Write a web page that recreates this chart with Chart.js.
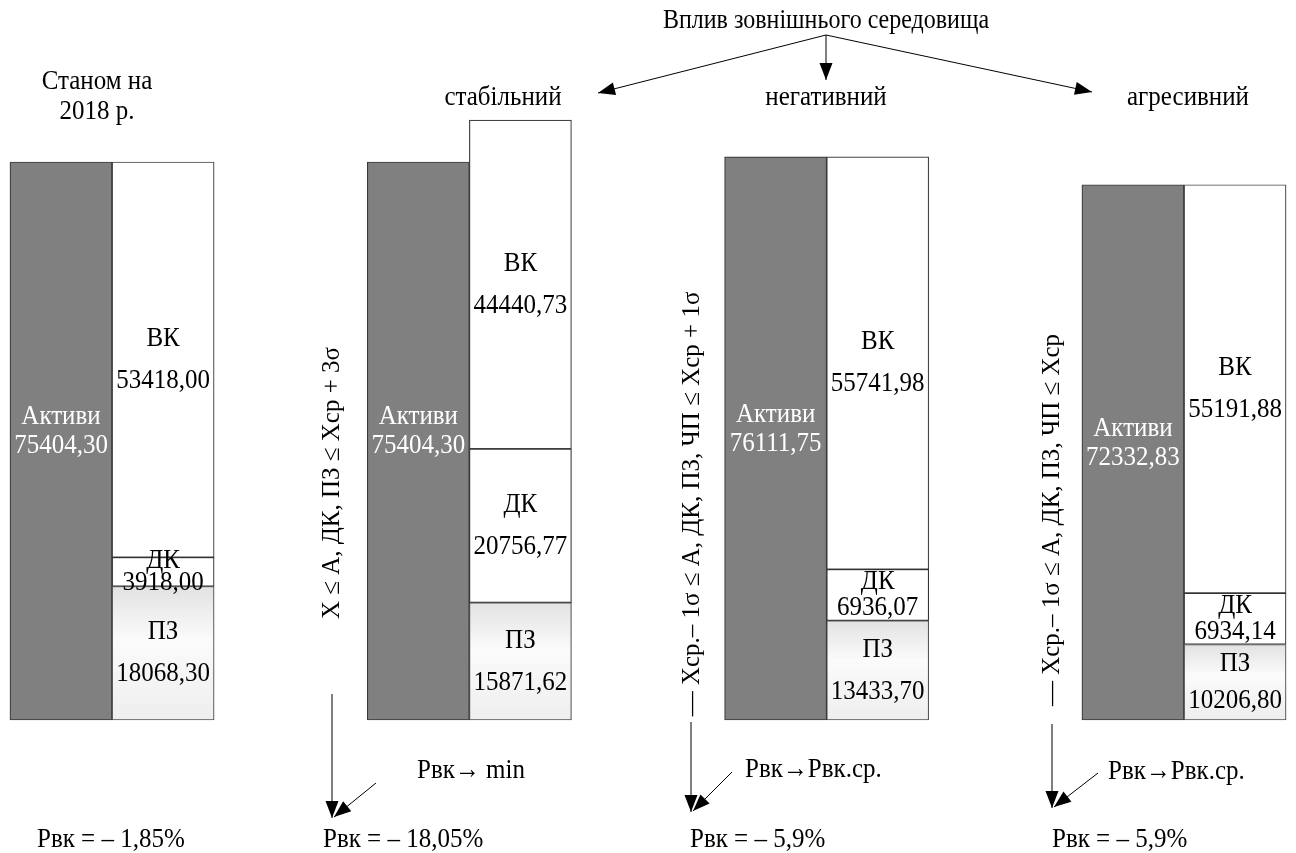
<!DOCTYPE html>
<html lang="uk">
<head>
<meta charset="utf-8">
<script src="https://cdn.jsdelivr.net/npm/chart.js@4.4.1/dist/chart.umd.min.js"></script>
<style>
    html, body { margin: 0; padding: 0; background: #fff; }
    #wrap { width: 1296px; height: 853px; position: relative; }
</style>
</head>
<body>
<div id="wrap"><canvas id="chartBalans"></canvas></div>
<script>
// дані зі схеми
const scenarios = ["Станом на 2018 р.", "стабільний", "негативний", "агресивний"];
const aktyvy = [75404.30, 75404.30, 76111.75, 72332.83];
const vk = [53418.00, 44440.73, 55741.98, 55191.88];
const dk = [3918.00, 20756.77, 6936.07, 6934.14];
const pz = [18068.30, 15871.62, 13433.70, 10206.80];
const conditions = ["", "X ≤ A, ДК, ПЗ ≤ Xcp + 3σ", "— Xср.– 1σ ≤ A, ДК, ПЗ, ЧП ≤ Xcp + 1σ", "— Xср.– 1σ ≤ A, ДК, ПЗ, ЧП ≤ Xcp"];
const targets = ["", "Рвк→ min", "Рвк→Рвк.ср.", "Рвк→Рвк.ср."];
const rvk = ["Рвк = – 1,85%", "Рвк = – 18,05%", "Рвк = – 5,9%", "Рвк = – 5,9%"];
const title = "Вплив зовнішнього середовища";

const FONT = '"Liberation Serif", "Times New Roman", serif';
const STRETCH = 1.12; // текст на схемі трохи витягнутий по вертикалі
const GROUP_STEP = 3.5;

function fmt(v) {
    return v.toFixed(2).replace(".", ",");
}

function points(values, offset) {
    return values.map((v, i) => ({ x: i * GROUP_STEP + offset, y: v }));
}

function pzGradient(c) {
    const chart = c.chart;
    const yScale = chart.scales.y;
    if (c.type !== "data" || !yScale) return "#f2f2f2";
    const top = yScale.getPixelForValue(c.raw.y);
    const bottom = yScale.getPixelForValue(0);
    if (!isFinite(top) || !isFinite(bottom)) return "#f2f2f2";
    const g = chart.ctx.createLinearGradient(0, top, 0, bottom);
    g.addColorStop(0, "#e2e2e2");
    g.addColorStop(0.4, "#fbfbfb");
    g.addColorStop(1, "#eeeeee");
    return g;
}

function text(ctx, str, x, y, align) {
    ctx.save();
    ctx.translate(x, y);
    ctx.scale(1, STRETCH);
    ctx.textAlign = align || "center";
    ctx.fillText(str, 0, 0);
    ctx.restore();
}

function arrow(ctx, x1, y1, x2, y2) {
    ctx.beginPath();
    ctx.moveTo(x1, y1);
    ctx.lineTo(x2, y2);
    ctx.stroke();
    const a = Math.atan2(y2 - y1, x2 - x1);
    const len = 17;
    const w = 6.5;
    ctx.beginPath();
    ctx.moveTo(x2, y2);
    ctx.lineTo(x2 - len * Math.cos(a) + w * Math.sin(a), y2 - len * Math.sin(a) - w * Math.cos(a));
    ctx.lineTo(x2 - len * Math.cos(a) - w * Math.sin(a), y2 - len * Math.sin(a) + w * Math.cos(a));
    ctx.closePath();
    ctx.fill();
}

// підписи всередині стовпців
const barLabels = {
    id: "barLabels",
    afterDatasetsDraw(chart) {
        const ctx = chart.ctx;
        ctx.save();
        ctx.font = "25px " + FONT;
        ctx.textBaseline = "middle";
        chart.data.datasets.forEach((ds, di) => {
            const meta = chart.getDatasetMeta(di);
            meta.data.forEach((el, i) => {
                const mid = (el.y + el.base) / 2;
                const h = Math.abs(el.base - el.y);
                const value = fmt(ds.data[i].y);
                if (ds.label === "Активи") {
                    ctx.fillStyle = "#ffffff";
                    text(ctx, ds.label, el.x, mid - 24);
                    text(ctx, value, el.x, mid + 5);
                } else {
                    const d = Math.min(21, Math.max(11, h / 4));
                    ctx.fillStyle = "#000000";
                    text(ctx, ds.label, el.x, mid - d);
                    text(ctx, value, el.x, mid + d);
                }
            });
        });
        ctx.restore();
    }
};

// стрілки та текст навколо діаграми
const schemeNotes = {
    id: "schemeNotes",
    afterDraw(chart) {
        const ctx = chart.ctx;
        ctx.save();
        ctx.fillStyle = "#000";
        ctx.strokeStyle = "#000";
        ctx.lineWidth = 1;
        ctx.textBaseline = "middle";

        ctx.font = "24px " + FONT;
        text(ctx, title, 826, 21);
        arrow(ctx, 826, 35, 598, 93);
        arrow(ctx, 826, 35, 826, 80);
        arrow(ctx, 826, 35, 1092, 92);

        ctx.font = "25px " + FONT;
        text(ctx, "Станом на", 97, 82);
        text(ctx, "2018 р.", 97, 112);
        const labelX = [0, 503, 826, 1188];
        for (let i = 1; i < scenarios.length; i++) {
            text(ctx, scenarios[i], labelX[i], 98);
        }

        const textPos = [null, [332, 483], [692, 504], [1052, 520]];
        const lineX = [0, 332, 691, 1052];
        const lineTop = [0, 694, 722, 724];
        const tipY = [0, 818, 812, 808];
        const diagFrom = [null, [376, 783], [732, 772], [1098, 773]];
        const targetX = [0, 417, 745, 1108];
        const targetY = [0, 771, 770, 772];
        for (let i = 1; i < scenarios.length; i++) {
            ctx.save();
            ctx.translate(textPos[i][0], textPos[i][1]);
            ctx.rotate(-Math.PI / 2);
            ctx.textAlign = "center";
            ctx.fillText(conditions[i], 0, 0);
            ctx.restore();

            arrow(ctx, lineX[i], lineTop[i], lineX[i], tipY[i]);
            arrow(ctx, diagFrom[i][0], diagFrom[i][1], lineX[i] + 2, tipY[i] - 1);

            text(ctx, targets[i], targetX[i], targetY[i], "left");
        }

        const rvkX = [37, 323, 690, 1052];
        rvk.forEach((t, i) => text(ctx, t, rvkX[i], 840, "left"));
        ctx.restore();
    }
};

const pxPerUnit = 102.09;
const firstCenter = 61;
const yBottom = 720;
const yScaleK = (720 - 162) / aktyvy[0];

new Chart(document.getElementById("chartBalans").getContext("2d"), {
    type: "bar",
    data: {
        datasets: [
            {
                label: "Активи",
                data: points(aktyvy, 0),
                backgroundColor: "#808080",
                borderColor: "#3a3a3a",
                stack: "s"
            },
            {
                label: "ПЗ",
                data: points(pz, 1),
                backgroundColor: pzGradient,
                borderColor: "#555555",
                stack: "s"
            },
            {
                label: "ДК",
                data: points(dk, 1),
                backgroundColor: "#ffffff",
                borderColor: "#333333",
                stack: "s"
            },
            {
                label: "ВК",
                data: points(vk, 1),
                backgroundColor: "#ffffff",
                borderColor: "#444444",
                stack: "s"
            }
        ]
    },
    options: {
        responsive: true,
        maintainAspectRatio: false,
        animation: false,
        layout: { padding: 0 },
        datasets: {
            bar: {
                barPercentage: 1,
                categoryPercentage: 1,
                borderWidth: 1.2,
                borderSkipped: false
            }
        },
        scales: {
            x: {
                type: "linear",
                display: false,
                stacked: true,
                offset: false,
                min: -firstCenter / pxPerUnit,
                max: (1296 - firstCenter) / pxPerUnit
            },
            y: {
                display: false,
                stacked: true,
                min: -(853 - yBottom) / yScaleK,
                max: yBottom / yScaleK
            }
        },
        plugins: {
            legend: { display: false },
            tooltip: { enabled: false }
        }
    },
    plugins: [barLabels, schemeNotes]
});
</script>
</body>
</html>
